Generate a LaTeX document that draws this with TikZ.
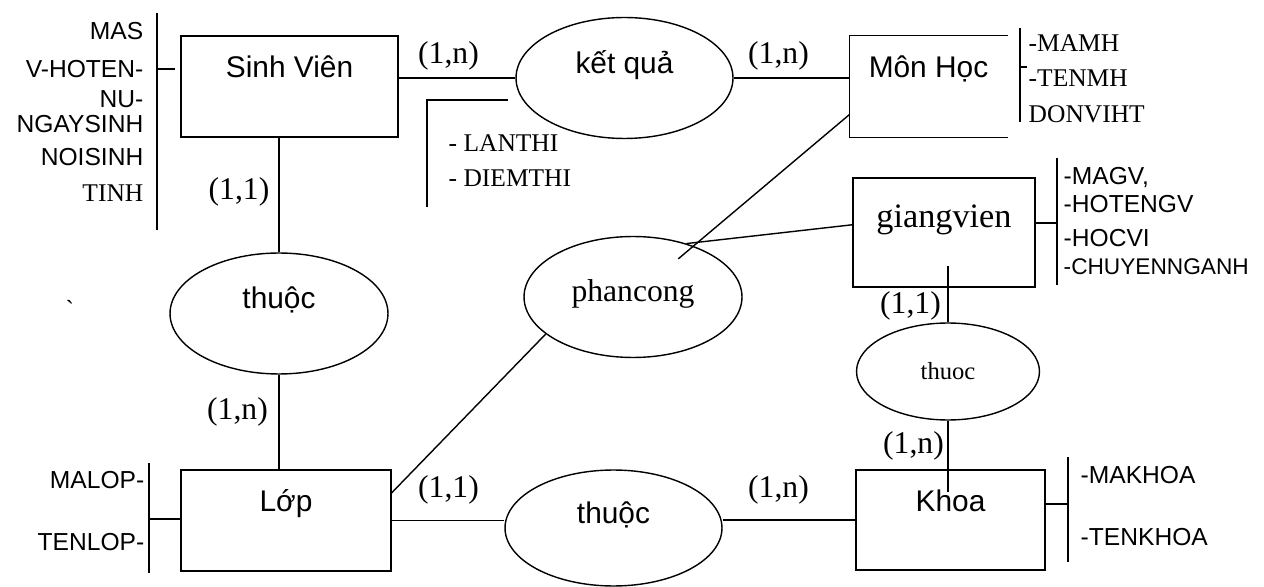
\documentclass[tikz,border=0pt]{standalone}
\usepackage{fontspec}
\setmainfont{Liberation Serif}
\setsansfont{Liberation Sans}
\usetikzlibrary{shapes.geometric, positioning, calc}

\begin{document}
\begin{tikzpicture}[x=0.02cm, y=-0.02cm, line width=0.8pt,
    entity/.style={draw, rectangle, font=\sffamily\fontsize{17}{20}\selectfont, text height=12pt, text depth=21.8pt},
    rel/.style={draw, ellipse, font=\sffamily\fontsize{17}{20}\selectfont, text height=12pt, text depth=17.5pt},
    card/.style={font=\fontsize{18}{21}\selectfont},
    attr/.style={font=\sffamily\fontsize{14}{16}\selectfont, inner sep=0pt},
    attrserif/.style={font=\fontsize{14.5}{17}\selectfont, inner sep=0pt}]
\useasboundingbox (0,0) rectangle (1264,587);

% Entities
\node[entity, minimum width=4.34cm, minimum height=2.02cm] (sv) at (289.5,86.5) {Sinh Viên\hspace{0.88cm}};
\node[entity, minimum width=3.14cm, minimum height=2.02cm, draw=none] (mh) at (928.5,86.5) {Môn Học};
\draw (mh.north east) -- (mh.north west) -- (mh.south west) -- (mh.south east);
\node[entity, minimum width=3.64cm, minimum height=2.18cm, font=\fontsize{19.5}{23}\selectfont, text depth=18.2pt] (gv) at (944,232.5) {giangvien};
\node[entity, minimum width=4.2cm, minimum height=2.02cm] (lop) at (286,520.5) {Lớp};
\node[entity, minimum width=3.78cm, minimum height=2cm] (khoa) at (950.5,520) {Khoa};

% Relationships
\node[rel, minimum width=4.34cm, minimum height=2.42cm] (kq) at (624.5,78) {kết quả};
\node[rel, minimum width=4.36cm, minimum height=2.42cm] (thuoc1) at (279,313.5) {thuộc};
\node[rel, minimum width=4.36cm, minimum height=2.42cm, font=\fontsize{18}{21}\selectfont, text depth=6.4pt] (pc) at (633,297) {phancong};
\node[rel, minimum width=3.66cm, minimum height=1.94cm, font=\fontsize{14}{17}\selectfont, text height=9.5pt, text depth=0pt] (thuoc2) at (948,371.5) {thuoc};
\node[rel, minimum width=4.34cm, minimum height=2.32cm] (thuoc3) at (613.5,528) {thuộc};

% Links
\draw (kq.west -| sv.east) -- (kq.west);
\draw (kq.east) -- (kq.east -| mh.west);
\draw (thuoc1.north) -- (thuoc1.north |- sv.south);
\draw (thuoc1.south) -- (thuoc1.south |- lop.north);
\draw (lop.east) -- (lop.east -| thuoc3.west);
\draw (khoa.west -| thuoc3.east) -- (khoa.west);
\draw[shorten >=-0.44cm] (thuoc2.north) -- (thuoc2.north |- gv.south);
\draw[shorten >=-0.46cm] (thuoc2.south) -- (thuoc2.south |- khoa.north);
\draw[shorten >=-0.4cm] ($(mh.west)!0.55!(mh.south west)$) -- (pc);
\draw ($(gv.west)!0.14!(gv.north west)$) -- (pc.45);
\draw ($(lop.north east)!0.23!(lop.south east)$) -- (pc.203);

% Cardinalities
\node[card] (c1) at (239,192) {(1,1)};
\node[card] (c2) at (237.5,412) {(1,n)};
\node[card] (c3) at (448.5,55.5) {(1,n)};
\node[card] (c4) at (778.5,55.5) {(1,n)};
\node[card] (c5) at (448.5,490) {(1,1)};
\node[card] (c6) at (778.5,490) {(1,n)};
\node[card] (c7) at (910.5,306) {(1,1)};
\node[card] (c8) at (913.5,445.5) {(1,n)};

% Sinh Vien attributes
\coordinate (svt) at (157,13);
\coordinate (svb) at (157,230);
\coordinate (svk) at (157,69);
\draw (svt) -- (svb);
\draw[shorten >=0.1cm] (svk) -- (svk -| sv.west);
\foreach \t/\y [count=\i] in {MAS/40, V-HOTEN-/78, NU-/108, NGAYSINH/133, NOISINH/166, {\rmfamily\fontsize{14.5}{17}\selectfont TINH}/202}
    \node[attr, anchor=base east] (sva\i) at (144,\y) {\t};

% Lop attributes
\coordinate (lopt) at (149,463);
\coordinate (lopb) at (149,573);
\coordinate (lopk) at (149,519);
\draw (lopt) -- (lopb);
\draw (lopk) -- (lopk -| lop.west);
\foreach \t/\y [count=\i] in {MALOP-/488, TENLOP-/550}
    \node[attr, anchor=base east] (lopa\i) at (145,\y) {\t};

% Mon Hoc attributes
\coordinate (mht) at (1020,28);
\coordinate (mhb) at (1020,122);
\coordinate (mhk) at (1020,67);
\draw (mht) -- (mhb);
\draw[shorten >=0.38cm] (mhk) -- (mhk -| mh.east);
\foreach \t/\y [count=\i] in {-MAMH/52, -TENMH/87, DONVIHT/123}
    \node[attrserif, anchor=base west] (mha\i) at (1028,\y) {\t};

% giangvien attributes
\coordinate (gvt) at (1057,158);
\coordinate (gvb) at (1057,285);
\coordinate (gvk) at (1057,223);
\draw (gvt) -- (gvb);
\draw (gvk) -- (gvk -| gv.east);
\foreach \t/\y [count=\i] in {{-MAGV,}/185, -HOTENGV/213, -HOCVI/247, {\fontsize{12.9}{15}\selectfont -CHUYENNGANH}/275}
    \node[attr, anchor=base west] (gva\i) at (1063,\y) {\t};

% Khoa attributes
\coordinate (kht) at (1068,457);
\coordinate (khb) at (1068,562);
\coordinate (khk) at (1068,504);
\draw (kht) -- (khb);
\draw (khk) -- (khk -| khoa.east);
\foreach \t/\y [count=\i] in {-MAKHOA/483, -TENKHOA/545}
    \node[attr, anchor=base west] (kha\i) at (1080,\y) {\t};

% ket qua attributes
\coordinate (kqt) at (427,100);
\coordinate (kqb) at (427,207);
\coordinate (kqr) at (508,100);
\draw (kqr) -- (kqt) -- (kqb);
\foreach \t/\y [count=\i] in {- LANTHI/152, - DIEMTHI/187}
    \node[attrserif, anchor=base west] (kqa\i) at (448,\y) {\t};

% stray mark
\node[attr] (tick) at (70,309) {\textasciigrave};
\end{tikzpicture}
\end{document}
